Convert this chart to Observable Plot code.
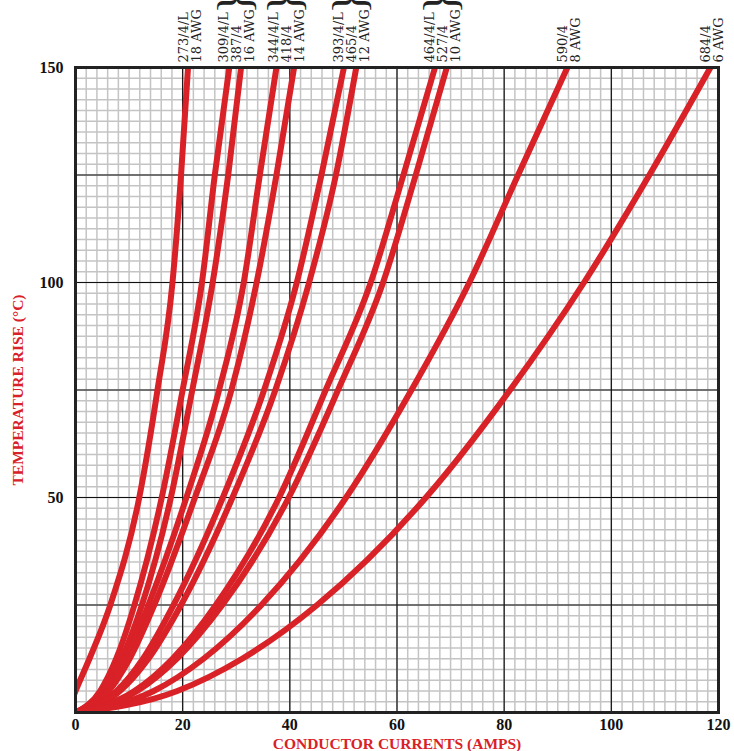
<!DOCTYPE html>
<html><head><meta charset="utf-8">
<script src="https://cdn.jsdelivr.net/npm/d3@7"></script>
<script src="https://cdn.jsdelivr.net/npm/@observablehq/plot@0.6"></script>
<style>body{margin:0;background:#fff}svg{display:block}</style>
</head><body><div id="chart"></div>
<script>
// Temperature rise levels (°C) at which each curve's current was read
const temps = [0, 5, 12.5, 25, 50, 75, 100, 125, 150];
// Conductor current (A) for each cable at the temperature levels above
const i273 = [-1.6, 0, 2.6, 6.5, 11.9, 15.3, 18.1, 19.7, 21.0];
const i309 = [0, 4.6, 7.6, 11.0, 16.1, 20.0, 23.6, 26.0, 28.7];
const i387 = [0, 5.2, 8.6, 12.4, 17.8, 21.8, 25.6, 28.5, 30.9];
const i344 = [0, 5.7, 9.4, 13.6, 20.7, 26.8, 31.4, 34.4, 37.5];
const i418 = [0, 6.2, 10.1, 14.7, 22.3, 29.1, 33.8, 37.5, 40.8];
const i393 = [0, 7.7, 12.6, 18.3, 27.5, 35.2, 41.3, 45.9, 50.1];
const i465 = [0, 8.3, 13.6, 19.7, 29.3, 37.3, 43.6, 48.6, 52.4];
const i464 = [0, 11.0, 18.1, 26.2, 38.0, 46.7, 55.1, 61.2, 67.1];
const i527 = [0, 11.5, 18.9, 27.4, 39.8, 49.0, 57.4, 63.5, 69.3];
const i590 = [0, 14.6, 23.9, 34.7, 50.5, 62.7, 73.5, 82.6, 91.8];
const i684 = [0, 19.0, 31.1, 45.1, 65.4, 81.1, 94.9, 107.1, 118.5];

const curveNames = ["273/4/L", "309/4/L", "387/4", "344/4/L", "418/4", "393/4/L", "465/4", "464/4/L", "527/4", "590/4", "684/4"];
const curveCurrents = [i273, i309, i387, i344, i418, i393, i465, i464, i527, i590, i684];
const gaugeLabels = ["18 AWG", "16 AWG", "14 AWG", "12 AWG", "10 AWG", "8 AWG", "6 AWG"];
const gaugeGroups = [[0], [1, 2], [3, 4], [5, 6], [7, 8], [9], [10]];

// Axis ticks and grid
const xTicks = [0, 20, 40, 60, 80, 100, 120];
const yTicks = [50, 100, 150];
const xMajor = [20, 40, 60, 80, 100];
const yMajor = [25, 50, 75, 100, 125];
const xMinor = d3.range(0, 121, 2);
const yMinor = d3.range(0, 151, 2.5);

const xTitle = "CONDUCTOR CURRENTS (AMPS)";
const yTitle = "TEMPERATURE RISE (°C)";

const red = "#d92128";

const rows = curveNames.flatMap((name, k) =>
  temps.map((t, j) => ({name, current: curveCurrents[k][j], temp: t})));

const topT = temps[temps.length - 1];
const groups = gaugeGroups.map((members, g) => ({
  x: d3.mean(members, k => curveCurrents[k][curveCurrents[k].length - 1]),
  y: topT,
  multi: members.length > 1,
  text: members.map(k => curveNames[k]).concat(gaugeLabels[g]).join("\n")
}));

const chart = Plot.plot({
  width: 734,
  height: 751,
  marginLeft: 75,
  marginRight: 16,
  marginTop: 67,
  marginBottom: 39,
  style: {fontFamily: "Liberation Serif", background: "#fff"},
  x: {domain: [0, 120]},
  y: {domain: [0, 150]},
  marks: [
    Plot.ruleX(xMinor, {stroke: "#c4c4c4", strokeWidth: 1.5}),
    Plot.ruleY(yMinor, {stroke: "#c4c4c4", strokeWidth: 1.5}),
    Plot.ruleX(xMajor, {stroke: "#111", strokeWidth: 1.2}),
    Plot.ruleY(yMajor, {stroke: "#111", strokeWidth: 1.2}),
    Plot.line(rows, {x: "current", y: "temp", z: "name", stroke: red, strokeWidth: 6, curve: "monotone-x", clip: true}),
    Plot.frame({stroke: "#222", strokeWidth: 3}),
    Plot.axisX({ticks: xTicks, tickSize: 0, tickPadding: 6, label: null, fontSize: 16, fontWeight: "bold", fill: "#111"}),
    Plot.axisY({ticks: yTicks, tickSize: 0, tickPadding: 12, label: null, fontSize: 16, fontWeight: "bold", fill: "#111"}),
    Plot.text([xTitle], {text: d => d, frameAnchor: "bottom", textAnchor: "middle", lineAnchor: "middle", dy: 32, fill: red, fontSize: 15.5, fontWeight: "bold"}),
    Plot.text([yTitle], {text: d => d, frameAnchor: "left", textAnchor: "middle", lineAnchor: "middle", dx: -57, rotate: -90, fill: red, fontSize: 15.5, fontWeight: "bold"}),
    Plot.text(groups, {x: "x", y: "y", text: "text", dx: 2, dy: -5, rotate: -90, textAnchor: "start", lineAnchor: "middle", lineHeight: 1.0, fontFamily: "DejaVu Serif", fontSize: 13, fill: "#222"}),
    Plot.text(groups.filter(g => g.multi), {x: "x", y: "y", text: () => "}", dx: 0, dy: -64.5, rotate: -90, textAnchor: "middle", lineAnchor: "middle", fontSize: 46, fill: "#222"})
  ]
});
document.getElementById("chart").append(chart);
</script>
</body></html>
